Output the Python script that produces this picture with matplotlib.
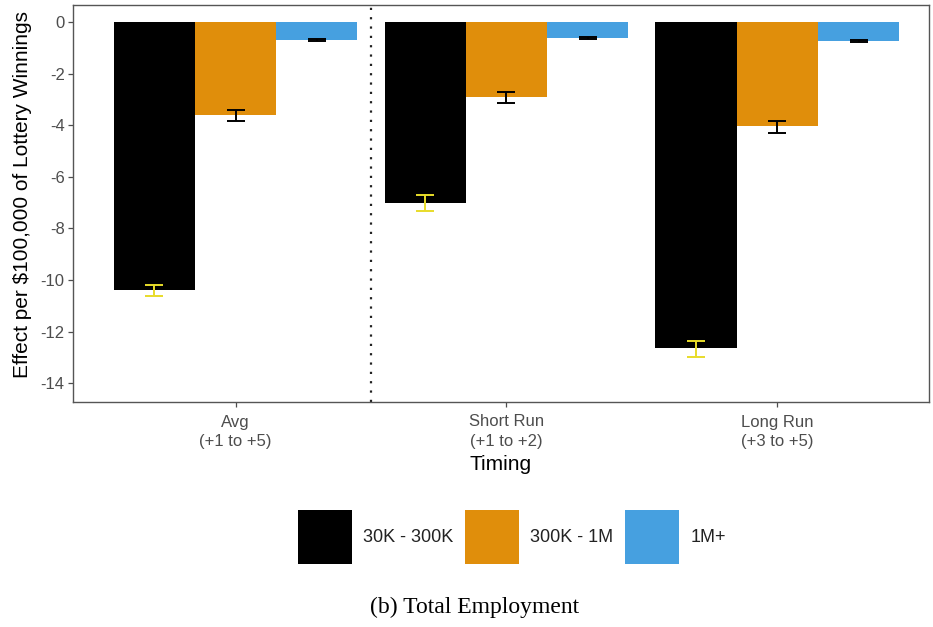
import matplotlib.pyplot as plt
import numpy as np
from matplotlib.patches import Patch

# data
timing = ['Avg\n(+1 to +5)', 'Short Run\n(+1 to +2)', 'Long Run\n(+3 to +5)']
brackets = ['30K - 300K', '300K - 1M', '1M+']
effect_30k = [-10.40, -7.00, -12.65]
effect_300k = [-3.62, -2.92, -4.05]
effect_1m = [-0.70, -0.63, -0.72]
ci_lo_30k = [-10.62, -7.32, -12.98]
ci_hi_30k = [-10.18, -6.70, -12.35]
ci_lo_300k = [-3.82, -3.15, -4.30]
ci_hi_300k = [-3.42, -2.70, -3.82]
ci_lo_1m = [-0.73, -0.67, -0.76]
ci_hi_1m = [-0.67, -0.59, -0.68]

colors = ['#000000', '#E08E0B', '#46A0E0']
err_colors = ['#E8DC2A', '#000000', '#000000']

plt.rcParams['font.family'] = ['Liberation Sans', 'DejaVu Sans']

fig = plt.figure(figsize=(9.33, 6.27), dpi=100)
ax = fig.add_axes([73 / 933, 1 - 402 / 627, (929 - 73) / 933, (402 - 5) / 627])

x = np.arange(len(timing))
width = 0.3
series = [
    (effect_30k, ci_lo_30k, ci_hi_30k),
    (effect_300k, ci_lo_300k, ci_hi_300k),
    (effect_1m, ci_lo_1m, ci_hi_1m),
]
for i, (vals, lo, hi) in enumerate(series):
    pos = x + (i - 1) * width
    ax.bar(pos, vals, width, color=colors[i], label=brackets[i], zorder=2)
    vals = np.array(vals)
    yerr = [vals - np.array(lo), np.array(hi) - vals]
    ax.errorbar(pos, vals, yerr=yerr, fmt='none', ecolor=err_colors[i],
                elinewidth=1.4, capsize=6.5, capthick=1.4, zorder=3)

ax.axvline(0.5, color='#222222', linestyle=(0, (1, 3.2)), linewidth=1.6, zorder=1)

ax.set_xlim(-0.6, 2.56)
ax.set_ylim(-14.73, 0.66)
ax.set_yticks(np.arange(-14, 1, 2))
ax.set_yticklabels([str(v) for v in range(-14, 1, 2)])
ax.set_xticks(x)
ax.set_xticklabels(timing, linespacing=1.35)
ax.tick_params(axis='both', colors='#4D4D4D', labelsize=12, length=3.5, width=0.9, pad=2.5)
ax.tick_params(axis='x', pad=5.5)
for s in ax.spines.values():
    s.set_color('#555555')
    s.set_linewidth(1.0)

ax.set_xlabel('Timing', fontsize=15, va='top')
ax.xaxis.set_label_coords(0.5, (402 - 455) / 397)
ax.set_ylabel('Effect per $100,000 of Lottery Winnings', fontsize=15)
ax.yaxis.set_label_coords((32 - 73) / 856, (402 - 195) / 397)

handles = [Patch(facecolor=c) for c in colors]
fig.legend(handles, brackets, loc='center', bbox_to_anchor=(512 / 933, 1 - 537 / 627),
           ncol=3, frameon=False, fontsize=13, handlelength=3.0, handleheight=4.24,
           handletextpad=0.6, columnspacing=0.65, labelcolor='#222222')

fig.text(475 / 933, 1 - 607 / 627, '(b) Total Employment', ha='center', va='center',
         fontsize=17, family=['Liberation Serif', 'DejaVu Serif'])

fig.savefig('out.png', dpi=100)
